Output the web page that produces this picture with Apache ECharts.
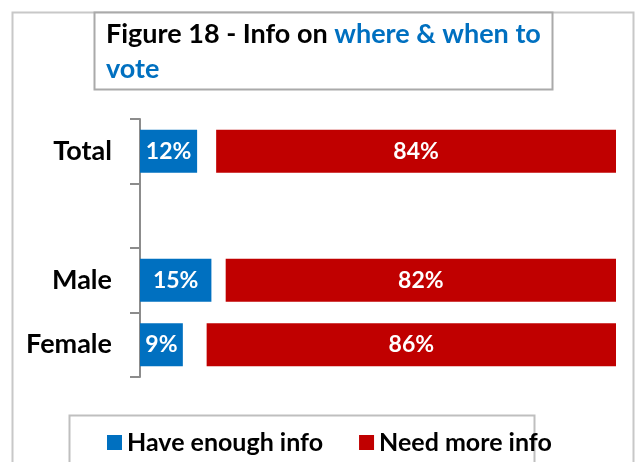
<!DOCTYPE html>
<html>
<head>
<meta charset="utf-8">
<script src="https://cdn.jsdelivr.net/npm/echarts@6/dist/echarts.min.js"></script>
<style>
  html, body { margin: 0; padding: 0; background: #ffffff; }
  #chart { width: 635px; height: 462px; }
</style>
</head>
<body>
<div id="chart"></div>
<script>
// Groups shown on the vertical axis (the empty entry is a spacer row)
const categories = ['Total', '', 'Male', 'Female'];
// Share of respondents, in percent
const haveEnough = [12, null, 15, 9];
const needMore = [84, null, 82, 86];
// Remainder (no answer), drawn as blank space between the two bars
const noAnswer = [4, null, 3, 5];

const FONT = 'Lato';
const BLUE = '#0070C0';
const RED = '#C00000';

const chart = echarts.init(document.getElementById('chart'), null, { renderer: 'canvas' });

const valueLabel = {
  show: true,
  position: 'inside',
  color: '#ffffff',
  fontFamily: FONT,
  fontWeight: 'bold',
  fontSize: 23,
  formatter: p => p.value + '%'
};

chart.setOption({
  animation: false,
  backgroundColor: '#ffffff',
  title: {
    left: 101,
    top: 12,
    text: '{k|Figure 18 - Info on }{b|where & when to}\n{b|vote}',
    textStyle: {
      rich: {
        k: { color: '#000000', fontFamily: FONT, fontWeight: 'bold', fontSize: 27, lineHeight: 35 },
        b: { color: BLUE, fontFamily: FONT, fontWeight: 'bold', fontSize: 27, lineHeight: 35 }
      }
    }
  },
  graphic: [
    {
      type: 'rect', z: -10, silent: true,
      shape: { x: 12.5, y: 12.5, width: 621, height: 470 },
      style: { fill: '#ffffff', stroke: '#c8c8c8', lineWidth: 2 }
    },
    {
      type: 'rect', z: -5, silent: true,
      shape: { x: 94.5, y: 12.5, width: 458, height: 77 },
      style: { fill: '#ffffff', stroke: '#aaaaaa', lineWidth: 2 }
    },
    {
      type: 'rect', z: -5, silent: true,
      shape: { x: 69.5, y: 415.5, width: 465, height: 60 },
      style: { fill: '#ffffff', stroke: '#bfbfbf', lineWidth: 2 }
    }
  ],
  legend: {
    data: ['Have enough info', 'Need more info'],
    left: 102,
    top: 425,
    itemWidth: 15,
    itemHeight: 15,
    itemGap: 36,
    icon: 'rect',
    textStyle: { fontFamily: FONT, fontWeight: 'bold', fontSize: 25, color: '#000000' }
  },
  grid: { left: 140, right: 19, top: 119, bottom: 85, containLabel: false },
  xAxis: {
    type: 'value',
    min: 0,
    max: 100,
    show: false
  },
  yAxis: {
    type: 'category',
    data: categories,
    inverse: true,
    axisLine: { show: true, lineStyle: { color: '#8c8c8c', width: 2 } },
    axisTick: { show: true, length: 10, lineStyle: { color: '#8c8c8c', width: 2 } },
    axisLabel: {
      margin: 28,
      color: '#000000',
      fontFamily: FONT,
      fontWeight: 'bold',
      fontSize: 27
    }
  },
  series: [
    {
      name: 'Have enough info',
      type: 'bar',
      stack: 'all',
      barWidth: 43,
      data: haveEnough,
      itemStyle: { color: BLUE },
      label: valueLabel
    },
    {
      name: 'No answer',
      type: 'bar',
      stack: 'all',
      barWidth: 43,
      data: noAnswer,
      itemStyle: { color: 'rgba(0,0,0,0)' },
      label: { show: false },
      emphasis: { disabled: true },
      silent: true
    },
    {
      name: 'Need more info',
      type: 'bar',
      stack: 'all',
      barWidth: 43,
      data: needMore,
      itemStyle: { color: RED },
      label: valueLabel
    }
  ]
});
</script>
</body>
</html>
